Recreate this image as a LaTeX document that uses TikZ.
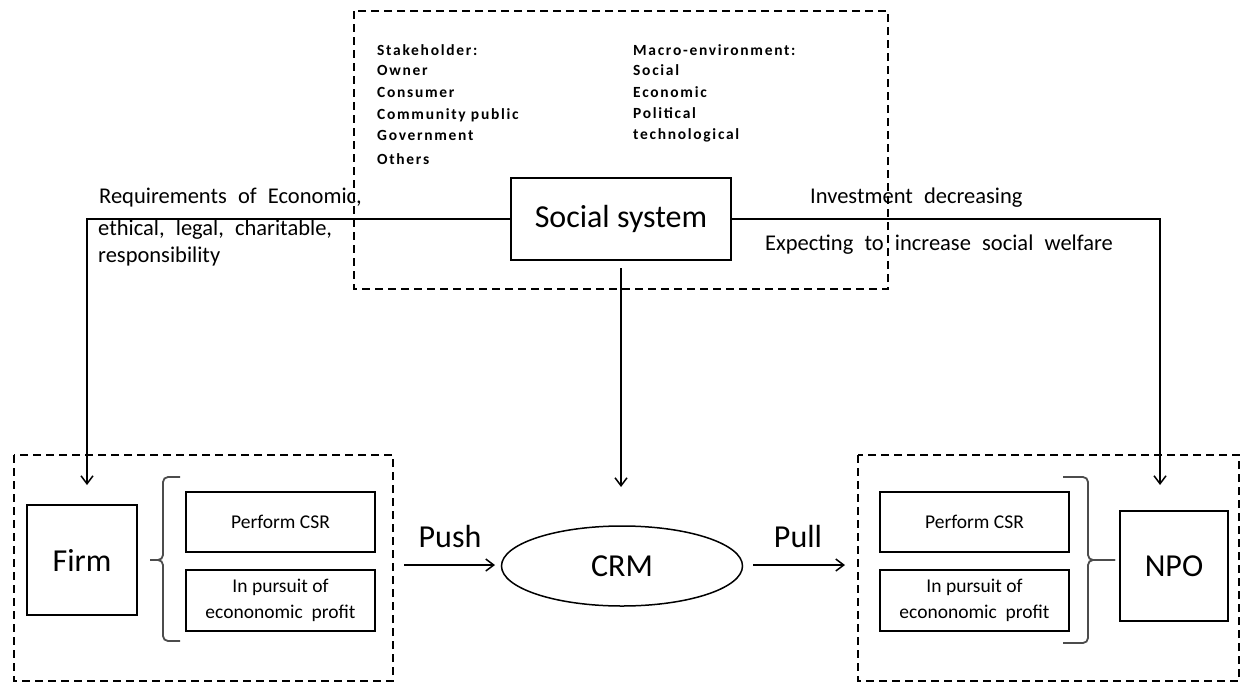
\documentclass[tikz,border=0pt]{standalone}
\usepackage{fontspec}
\setmainfont{Carlito}
\newfontfamily\listfont[LetterSpace=11]{Carlito Bold}
\newfontfamily\notefont[WordSpace=2.2]{Carlito}
\usetikzlibrary{shapes.geometric,arrows.meta}

\tikzset{
  solidbox/.style={draw, line width=1.6pt, inner sep=0pt, align=center},
  dashbox/.style={draw, line width=1.4pt, dash pattern=on 8pt off 5pt},
  conn/.style={line width=1.5pt},
  arr/.style={conn, -{Straight Barb[length=8pt,width=12pt,line width=1.5pt]}},
  brace/.style={line width=1.8pt, draw=black!70, rounded corners=5pt},
  lbl/.style={anchor=west, inner sep=0pt, font=\notefont\fontsize{22.5}{26}\selectfont},
  item/.style={anchor=base west, inner sep=0pt, font=\listfont\fontsize{15.5}{17}\selectfont},
  bigtxt/.style={font=\fontsize{32}{36}\selectfont},
  smalltxt/.style={font=\fontsize{19.5}{26}\selectfont},
}

\begin{document}
\begin{tikzpicture}[x=1pt, y=-1pt]
\useasboundingbox (0,0) rectangle (1248,683);

% grouping frames
\draw[dashbox] (354,11) rectangle (888,289);
\draw[dashbox] (14,455) rectangle (393,681);
\draw[dashbox] (858,455) rectangle (1239,681);

% environment lists (baselines)
\node[item] (s0) at (377,55) {Stakeholder:};
\node[item] (s1) at (377,75) {Owner};
\node[item] (s2) at (377,97) {Consumer};
\node[item] (s3) at (377,119.5) {Community public};
\node[item] (s4) at (377,140) {Government};
\node[item] (s5) at (377,164) {Others};
\node[item] (m0) at (633,55) {Macro-environment:};
\node[item] (m1) at (633,75) {Social};
\node[item] (m2) at (633,97) {Economic};
\node[item] (m3) at (633,118.5) {Political};
\node[item] (m4) at (633,139) {technological};

% central system
\node[solidbox, bigtxt, minimum width=220pt, minimum height=82pt] (soc) at (621,219) {Social system};

% firm side
\node[solidbox, bigtxt, minimum width=110pt, minimum height=110pt] (firm) at (82,560) {Firm};
\node[solidbox, smalltxt, minimum width=189pt, minimum height=60pt] (fcsr) at (280.5,522) {Perform CSR};
\node[solidbox, smalltxt, minimum width=189pt, minimum height=61pt] (fpro) at (280.5,600.5) {In pursuit of\\econonomic\ \ profit};

% NPO side
\node[solidbox, bigtxt, minimum width=108pt, minimum height=110pt] (npo) at (1174,566) {NPO};
\node[solidbox, smalltxt, minimum width=189pt, minimum height=60pt] (ncsr) at (974.5,522) {Perform CSR};
\node[solidbox, smalltxt, minimum width=189pt, minimum height=61pt] (npro) at (974.5,600.5) {In pursuit of\\econonomic\ \ profit};

% marketing link
\node[draw, ellipse, line width=1.5pt, minimum width=241pt, minimum height=80pt, inner sep=0pt, bigtxt] (crm) at (622,566) {CRM};

% braces grouping the two activities
\draw[brace] (180,477) -- (163,477) -- (163,560) -- (150,560);
\draw[brace] (180,641) -- (163,641) -- (163,560) -- (150,560);
\draw[brace] (1063,477) -- (1088,477) -- (1088,560) -- (1115,560);
\draw[brace] (1063,643) -- (1088,643) -- (1088,560) -- (1115,560);

% connector end points
\coordinate (fin) at (87,485);
\coordinate (nin) at (1160,485);
\coordinate (sdown) at (621,268);
\coordinate (cin) at (621,487);
\coordinate (pushs) at (404,565);
\coordinate (pushe) at (495,565);
\coordinate (pulls) at (753,565);
\coordinate (pulle) at (845,565);

\draw[arr] (soc.west) -| (fin);
\draw[arr] (soc.east) -| (nin);
\draw[arr] (sdown) -- (cin);
\draw[arr] (pushs) -- (pushe);
\draw[arr] (pulls) -- (pulle);

% labels
\node[bigtxt, inner sep=0pt] (push) at (450,536) {Push};
\node[bigtxt, inner sep=0pt] (pull) at (798,536) {Pull};
\node[lbl] (r1) at (99,198) {Requirements of Economic,};
\node[lbl] (r2) at (98,230) {ethical, legal, charitable,};
\node[lbl] (r3) at (98,256) {responsibility};
\node[lbl] (i1) at (810,198) {Investment decreasing};
\node[lbl] (i2) at (765,245) {Expecting to increase social welfare};
\end{tikzpicture}
\end{document}
